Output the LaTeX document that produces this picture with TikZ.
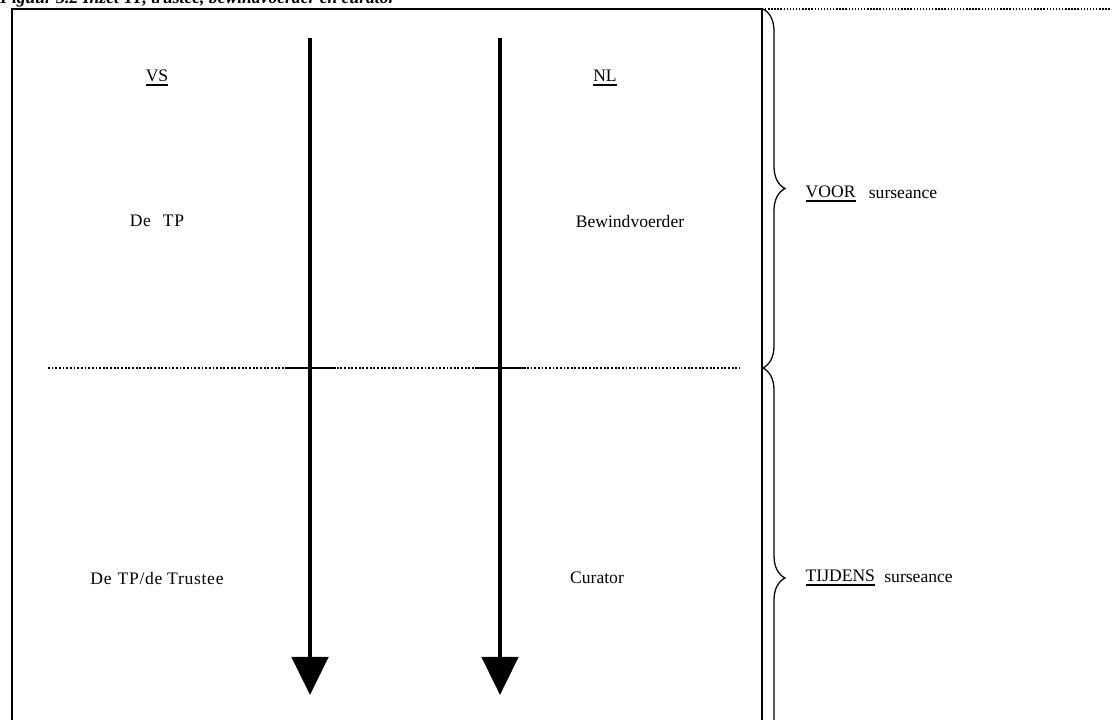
\documentclass[tikz,border=0pt]{standalone}
\usepackage{fontspec}
\setmainfont{Liberation Serif}
\usetikzlibrary{positioning,arrows.meta,decorations.pathreplacing}

% thick underline as in the reference
\newcommand{\thickul}[1]{\setbox0\hbox{#1}\rlap{\rule[-2.6pt]{\wd0}{1.2pt}}\box0}

\begin{document}
\begin{tikzpicture}[x=0.025cm,y=-0.025cm,
    lbl/.style={inner sep=1pt, font=\fontsize{12.5}{15}\selectfont},
    wide/.style={lbl, font=\fontsize{12.5}{15}\selectfont\addfontfeature{LetterSpace=4}},
    axis/.style={line width=3.4pt, -{Triangle[width=0.9cm,length=0.95cm]}},
    cross/.style={line width=1.3pt},
    sep/.style={line width=1.3pt, dash pattern=on 1.3pt off 1.3pt},
    frame/.style={line width=1.1pt},
    period/.style={decorate, decoration={brace, amplitude=0.55cm}, line width=0.9pt},
    every node/.style={node distance=0.25cm}
    ]
    \useasboundingbox (0,0) rectangle (1112,720);
    \clip (0,0) rectangle (1112,720);

    % caption, cut off by the page top
    \node[lbl, anchor=base west, inner sep=0pt, font=\fontsize{12.5}{15}\selectfont\bfseries\itshape] (caption) at (0,4) {Figuur 3.2 Inzet TP, trustee, bewindvoerder en curator};

    % frame round the two columns
    \coordinate (frameTL) at (12,9);
    \coordinate (frameBR) at (762,740);
    \draw[frame] (frameTL) rectangle (frameBR);

    % dotted border to the right edge
    \coordinate (topL) at (765,9);
    \coordinate (topR) at (1112,9);
    \draw[line width=1pt, dash pattern=on 1pt off 1.2pt] (topL) -- (topR);

    % moment of the surseance
    \coordinate (sepL) at (48,368);
    \coordinate (sepR) at (740,368);
    \draw[sep] (sepL) -- (sepR);

    % time axes for VS and NL
    \foreach \name/\x in {vs/310, nl/500} {
        \coordinate (\name top) at (\x,38);
        \coordinate (\name bot) at (\x,695);
        \coordinate (\name L) at (\x-25,368);
        \coordinate (\name R) at (\x+26,368);
        \draw[cross] (\name L) -- (\name R);
        \draw[axis] (\name top) -- (\name bot);
    }

    % column labels
    \node[lbl] (vs) at (157,78) {\thickul{VS}};
    \node[lbl] (nl) at (605,78) {\thickul{NL}};
    \node[wide] (vsVoor) at (157,221) {De\hspace{0.3cm}TP};
    \node[lbl] (nlVoor) at (630,221) {Bewindvoerder};
    \node[wide] (vsTijdens) at (157,578) {De\hspace{0.15cm}TP/de\hspace{0.12cm}Trustee};
    \node[lbl] (nlTijdens) at (597,578) {Curator};

    % braces for the two periods
    \coordinate (braceTop) at (763,9);
    \coordinate (braceMid) at (763,368);
    \coordinate (braceBot) at (763,788);
    \draw[period] (braceTop) -- (braceMid);
    \draw[period] (braceMid) -- (braceBot);

    \node[lbl, anchor=west] (voor) at (804,194) {\thickul{VOOR}};
    \node[lbl, right=of voor] (voorS) {surseance};
    \node[lbl, anchor=west] (tijdens) at (804,578) {\thickul{TIJDENS}};
    \node[lbl, right=0.15cm of tijdens] (tijdensS) {surseance};
\end{tikzpicture}
\end{document}
